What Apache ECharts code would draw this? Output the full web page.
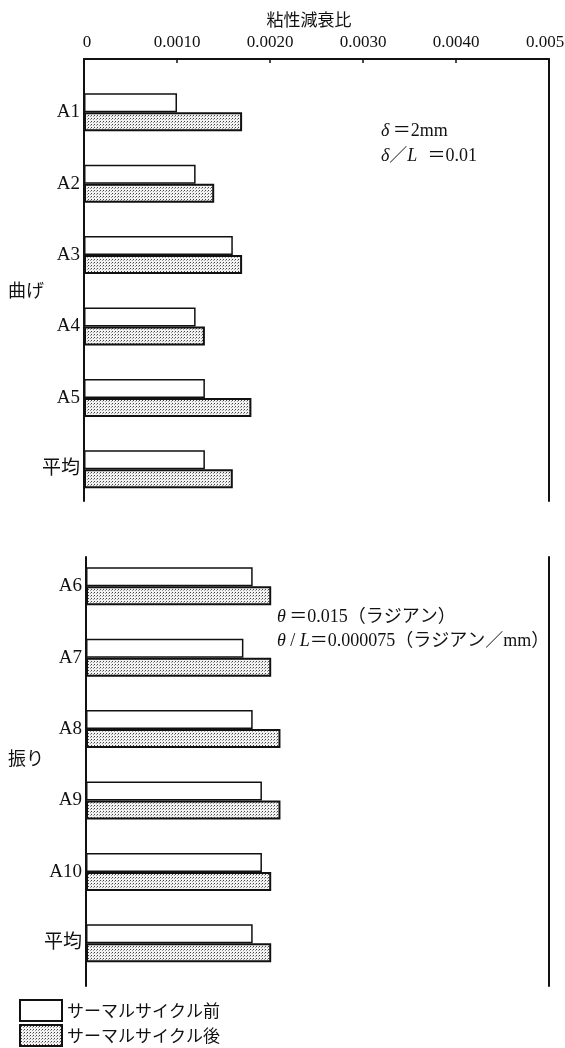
<!DOCTYPE html>
<html>
<head>
<meta charset="utf-8">
<script src="https://cdn.jsdelivr.net/npm/echarts@6/dist/echarts.min.js"></script>
<style>
  html, body { margin: 0; padding: 0; background: #fff; }
  #chart { width: 565px; height: 1048px; }
</style>
</head>
<body>
<div id="chart"></div>
<script>
// Viscous damping ratio before / after thermal cycling (bending and torsion specimens)
const bendCategories = ['A1', 'A2', 'A3', 'A4', 'A5', '平均'];
const bendBefore = [0.0010, 0.0012, 0.0016, 0.0012, 0.0013, 0.0013];
const bendAfter = [0.0017, 0.0014, 0.0017, 0.0013, 0.0018, 0.0016];

const torsionCategories = ['A6', 'A7', 'A8', 'A9', 'A10', '平均'];
const torsionBefore = [0.0018, 0.0017, 0.0018, 0.0019, 0.0019, 0.0018];
const torsionAfter = [0.0020, 0.0020, 0.0021, 0.0021, 0.0020, 0.0020];

const tickLabels = ['0', '0.0010', '0.0020', '0.0030', '0.0040', '0.005'];
const seriesNames = ['サーマルサイクル前', 'サーマルサイクル後'];

const SERIF = "'Liberation Serif', 'DejaVu Serif', 'Noto Sans CJK JP', serif";
const CJK = "'Noto Sans CJK JP', sans-serif";
const INK = '#111';

// stipple fill for the "after" bars
function dotPattern() {
  const c = document.createElement('canvas');
  c.width = 3; c.height = 3;
  const g = c.getContext('2d');
  g.fillStyle = '#f2f2f2';
  g.fillRect(0, 0, 3, 3);
  g.fillStyle = '#444';
  g.fillRect(1, 1, 1, 1);
  g.fillStyle = '#999';
  g.fillRect(0, 2, 1, 1);
  return { image: c, repeat: 'repeat' };
}
const pattern = dotPattern();

const chart = echarts.init(document.getElementById('chart'), null, { renderer: 'canvas' });

const frameY = (gridIndex, position) => ({
  type: 'value', gridIndex, position,
  min: 0, max: 1,
  axisLine: { show: true, onZero: false, lineStyle: { color: INK, width: 2 } },
  axisTick: { show: false }, axisLabel: { show: false }, splitLine: { show: false }
});
const hiddenX = (gridIndex) => ({
  type: 'value', gridIndex, min: 0, max: 0.005, interval: 0.001, show: false, splitLine: { show: false }
});
const catY = (gridIndex, data) => ({
  type: 'category', gridIndex, data, inverse: true,
  axisLine: { show: false }, axisTick: { show: false }, splitLine: { show: false },
  axisLabel: { margin: 4, fontSize: 19, color: INK, fontFamily: SERIF }
});

const beforeStyle = { color: '#fff', borderColor: INK, borderWidth: 1.5 };
const afterStyle = { color: pattern, borderColor: INK, borderWidth: 2 };

const bar = (name, xi, yi, data, style) => ({
  name, type: 'bar', xAxisIndex: xi, yAxisIndex: yi, data,
  barWidth: 19, barGap: '0%', itemStyle: style, silent: true, animation: false
});

const grid = (left, top, width, height) => ({
  left, top, width, height, containLabel: false, outerBoundsMode: 'none'
});

// first and last tick labels sit slightly inward of their ticks
function tickFormatter(v) {
  const i = Math.round(v / 0.001);
  const s = tickLabels[i];
  if (i === 0) return '{first|' + s + '}';
  if (i === tickLabels.length - 1) return '{last|' + s + '}';
  return s;
}

chart.setOption({
  animation: false,
  backgroundColor: '#fff',
  title: {
    text: '粘性減衰比', left: 304, top: 6, textAlign: 'center',
    textStyle: { fontSize: 17, fontWeight: 'normal', color: INK, fontFamily: CJK }
  },
  legend: {
    data: seriesNames,
    icon: 'rect',
    orient: 'vertical', left: 19, top: 999, padding: 0,
    itemWidth: 42, itemHeight: 21, itemGap: 2,
    textStyle: { fontSize: 17, color: INK, fontFamily: CJK },
    selectedMode: false
  },
  grid: [
    grid(84, 59, 465, 442),
    grid(86, 557, 463, 429),
    grid(84, 76.5, 465, 428.5),
    grid(86, 550.5, 463, 428.5)
  ],
  xAxis: [
    {
      type: 'value', gridIndex: 0, position: 'top', min: 0, max: 0.005, interval: 0.001,
      axisLine: { show: true, onZero: false, lineStyle: { color: INK, width: 2 } },
      axisTick: { show: true, inside: true, length: 4, lineStyle: { color: INK, width: 1.5 } },
      axisLabel: {
        margin: 8, fontSize: 17, color: INK, fontFamily: SERIF,
        formatter: tickFormatter,
        rich: {
          first: { fontSize: 17, fontFamily: SERIF, color: INK, padding: [0, 0, 0, 6] },
          last: { fontSize: 17, fontFamily: SERIF, color: INK, padding: [0, 8, 0, 0] }
        }
      },
      splitLine: { show: false }
    },
    hiddenX(1), hiddenX(2), hiddenX(3)
  ],
  yAxis: [
    frameY(0, 'left'), frameY(0, 'right'),
    frameY(1, 'left'), frameY(1, 'right'),
    catY(2, bendCategories), catY(3, torsionCategories)
  ],
  series: [
    bar(seriesNames[0], 2, 4, bendBefore, beforeStyle),
    bar(seriesNames[1], 2, 4, bendAfter, afterStyle),
    bar(seriesNames[0], 3, 5, torsionBefore, beforeStyle),
    bar(seriesNames[1], 3, 5, torsionAfter, afterStyle)
  ],
  graphic: [
    { type: 'text', left: 8, top: 281, style: { text: '曲げ', fontSize: 18, fill: INK, fontFamily: CJK } },
    { type: 'text', left: 8, top: 749, style: { text: '振り', fontSize: 18, fill: INK, fontFamily: CJK } },
    {
      type: 'text', left: 381, top: 122,
      style: {
        text: '{i|δ} {n|＝2mm}\n{i|δ}{n|／}{i|L}   {n|＝0.01}',
        rich: {
          i: { fontSize: 18, fontStyle: 'italic', fontFamily: SERIF, fill: INK, lineHeight: 25 },
          n: { fontSize: 18, fontFamily: SERIF, fill: INK, lineHeight: 25 }
        }
      }
    },
    {
      type: 'text', left: 277, top: 608,
      style: {
        text: '{i|θ} {n|＝0.015（ラジアン）}\n{i|θ}{n| / }{i|L}{n|＝0.000075（ラジアン／mm）}',
        rich: {
          i: { fontSize: 18, fontStyle: 'italic', fontFamily: SERIF, fill: INK, lineHeight: 24 },
          n: { fontSize: 18, fontFamily: SERIF, fill: INK, lineHeight: 24 }
        }
      }
    }
  ]
});
</script>
</body>
</html>
